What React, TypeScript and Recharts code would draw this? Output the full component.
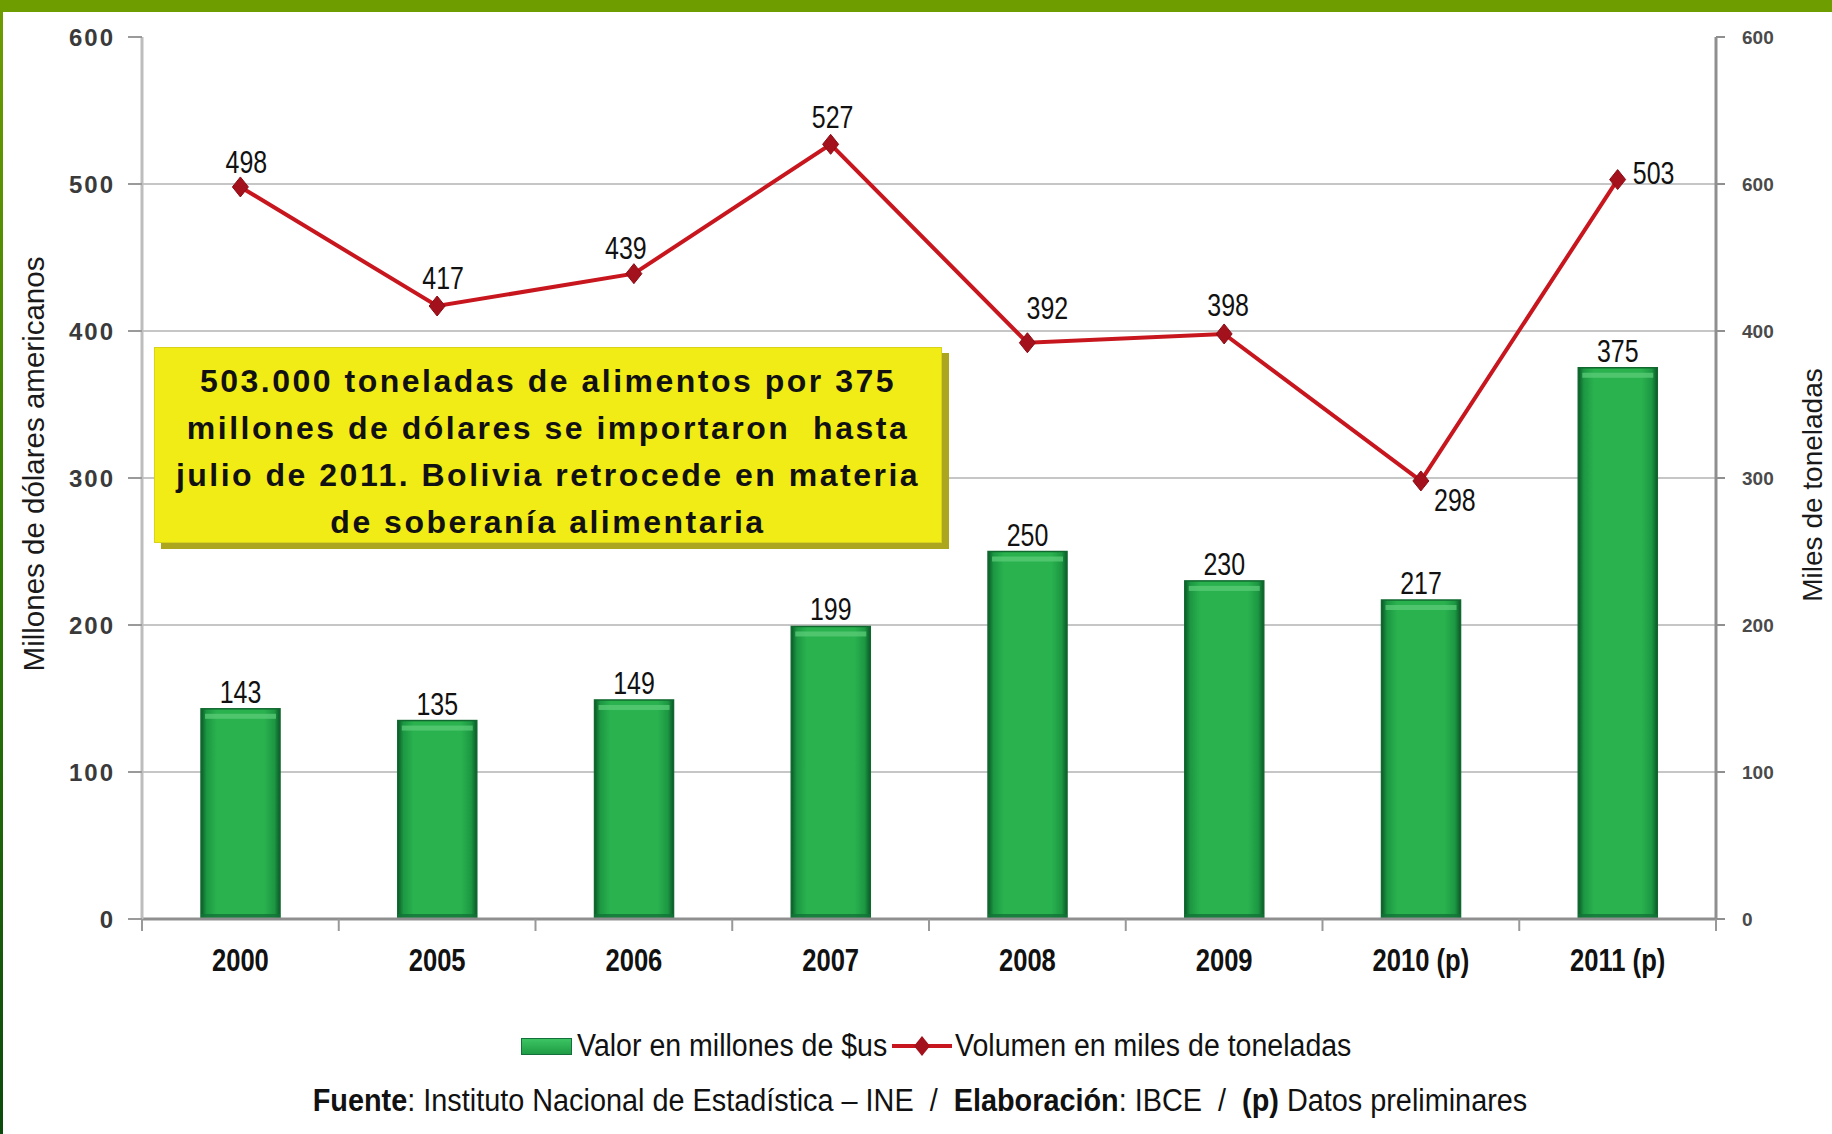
import React from 'react';
import { ComposedChart, Bar, Line, XAxis, YAxis, CartesianGrid, LabelList, Legend } from 'recharts';

const categories = ['2000', '2005', '2006', '2007', '2008', '2009', '2010 (p)', '2011 (p)'];
const valorMillones = [143, 135, 149, 199, 250, 230, 217, 375];
const volumenMiles = [498, 417, 439, 527, 392, 398, 298, 503];
const axisTicks = [0, 100, 200, 300, 400, 500, 600];
const leftTickLabels = ['0', '100', '200', '300', '400', '500', '600'];
const rightTickLabels = ['0', '100', '200', '300', '400', '600', '600'];
const gridValues = [100, 200, 300, 400, 500];
const boxLines = [
  '503.000 toneladas de alimentos por 375',
  'millones de dólares se importaron  hasta',
  'julio de 2011. Bolivia retrocede en materia',
  'de soberanía alimentaria',
];
const legendLabels = ['Valor en millones de $us', 'Volumen en miles de toneladas'];
const leftTitle = 'Millones de dólares americanos';
const rightTitle = 'Miles de toneladas';

const data = categories.map((c, i) => ({ year: c, valor: valorMillones[i], volumen: volumenMiles[i] }));

// label placement offsets (style) for the line values, relative to each point
const lineLabelOffsets: [number, number][] = [
  [6, -25], [6, -28], [-8, -26], [2, -27], [20, -35], [4, -29], [34, 19], [36, -7],
];

const SANS = '"Liberation Sans", Arial, sans-serif';

// horizontally compressed text (imitates the narrow font of the original)
const NarrowText = (p: {
  x: number; y: number; sx: number; size: number; bold?: boolean; anchor?: string; baseline?: string; children: any;
}) => (
  <text
    transform={`translate(${p.x},${p.y}) scale(${p.sx},1)`}
    x={0}
    y={0}
    textAnchor={p.anchor || 'middle'}
    dominantBaseline={p.baseline || 'central'}
    fontFamily={SANS}
    fontSize={p.size}
    fontWeight={p.bold ? 'bold' : 'normal'}
    fill="#111"
  >
    {p.children}
  </text>
);

const BarShape = (props: any) => {
  const { x, y, width, height, index } = props;
  if (!height || height <= 0) return null;
  const id = `barGrad${index}`;
  return (
    <g>
      <defs>
        <linearGradient id={id} x1="0" y1="0" x2="1" y2="0">
          <stop offset="0%" stopColor="#0b5a28" />
          <stop offset="7%" stopColor="#1c9742" />
          <stop offset="20%" stopColor="#2ab24f" />
          <stop offset="80%" stopColor="#2ab24f" />
          <stop offset="93%" stopColor="#1c9742" />
          <stop offset="100%" stopColor="#0b5a28" />
        </linearGradient>
      </defs>
      <rect x={x} y={y} width={width} height={height} fill={`url(#${id})`} stroke="#10682f" strokeWidth={1.5} />
      <rect x={x + 4} y={y + 5} width={width - 8} height={5} fill="#5fcf7c" opacity={0.7} />
      <rect x={x} y={y + height - 5} width={width} height={5} fill="#117337" opacity={0.8} />
    </g>
  );
};

const Diamond = (props: any) => {
  const { cx, cy } = props;
  if (cx == null || cy == null) return null;
  return (
    <polygon
      points={`${cx},${cy - 10} ${cx + 8},${cy} ${cx},${cy + 10} ${cx - 8},${cy}`}
      fill="#a3111c"
      stroke="#8c0c15"
      strokeWidth={1}
    />
  );
};

const LineLabel = (props: any) => {
  const { x, y, value, index } = props;
  const [dx, dy] = lineLabelOffsets[index] || [0, -25];
  return (
    <NarrowText x={x + dx} y={y + dy} sx={0.78} size={32}>
      {value}
    </NarrowText>
  );
};

const BarLabel = (props: any) => {
  const { x, y, width, value } = props;
  return (
    <NarrowText x={x + width / 2} y={y - 6} sx={0.78} size={32} baseline="auto">
      {value}
    </NarrowText>
  );
};

const XTick = (props: any) => {
  const { x, y, payload, index, visibleTicksCount, width } = props;
  const off = payload && payload.offset != null && payload.offset > 0 ? payload.offset : width / visibleTicksCount / 2;
  const last = index === visibleTicksCount - 1;
  return (
    <g>
      <line x1={x - off} x2={x - off} y1={y} y2={y + 12} stroke="#999" strokeWidth={2} />
      {last && <line x1={x + off} x2={x + off} y1={y} y2={y + 12} stroke="#999" strokeWidth={2} />}
      <NarrowText x={x} y={y + 41} sx={0.8} size={32} bold>
        {payload.value}
      </NarrowText>
    </g>
  );
};

const LeftTitle = (props: any) => {
  const vb = props.viewBox || { x: 0, y: 37, width: 142, height: 882 };
  const cx = vb.x + 33;
  const cy = vb.y + vb.height / 2 - 14;
  return (
    <text
      transform={`translate(${cx},${cy}) rotate(-90)`}
      textAnchor="middle"
      dominantBaseline="central"
      fontFamily={SANS}
      fontSize={29.5}
      fill="#1a1a1a"
    >
      {leftTitle}
    </text>
  );
};

const RightTitle = (props: any) => {
  const vb = props.viewBox || { x: 1716, y: 37, width: 116, height: 882 };
  const cx = vb.x + 96;
  const cy = vb.y + vb.height / 2 + 7;
  return (
    <text
      transform={`translate(${cx},${cy}) rotate(-90)`}
      textAnchor="middle"
      dominantBaseline="central"
      fontFamily={SANS}
      fontSize={28}
      fill="#1a1a1a"
    >
      {rightTitle}
    </text>
  );
};

const narrowHtml = (sx: number): React.CSSProperties => ({
  transform: `scaleX(${sx})`,
  transformOrigin: '0 50%',
});

const LegendContent = () => (
  <div style={{ position: 'relative', width: 1832, height: 100, fontFamily: SANS, color: '#111' }}>
    <div
      style={{
        position: 'absolute',
        left: 521,
        top: 9,
        width: 49,
        height: 15,
        background: 'linear-gradient(#3cc462, #1f9c45)',
        border: '1px solid #13703a',
      }}
    />
    <div
      style={{
        position: 'absolute', left: 577, top: -1, fontSize: 31, whiteSpace: 'nowrap', lineHeight: '36px',
        ...narrowHtml(0.92),
      }}
    >
      {legendLabels[0]}
    </div>
    <svg style={{ position: 'absolute', left: 890, top: 4 }} width={64} height={26}>
      <line x1={2} y1={13} x2={62} y2={13} stroke="#c8161e" strokeWidth={4} />
      <polygon points="32,3 40,13 32,23 24,13" fill="#a3111c" />
    </svg>
    <div
      style={{
        position: 'absolute', left: 955, top: -1, fontSize: 31, whiteSpace: 'nowrap', lineHeight: '36px',
        ...narrowHtml(0.92),
      }}
    >
      {legendLabels[1]}
    </div>
    <div
      style={{
        position: 'absolute',
        left: 0,
        width: 1840,
        top: 54,
        textAlign: 'center',
        fontSize: 31,
        lineHeight: '36px',
        whiteSpace: 'nowrap',
        transform: 'scaleX(0.93)',
        transformOrigin: '50% 50%',
      }}
    >
      <b>Fuente</b>: Instituto Nacional de Estadística – INE&nbsp;&nbsp;/&nbsp;&nbsp;<b>Elaboración</b>: IBCE&nbsp;&nbsp;/&nbsp;&nbsp;<b>(p)</b> Datos preliminares
    </div>
  </div>
);

export default function App() {
  return (
    <div
      style={{
        position: 'absolute',
        left: 0,
        top: 0,
        width: 1832,
        height: 1134,
        background: '#ffffff',
        overflow: 'hidden',
      }}
    >
      <ComposedChart
        width={1832}
        height={1134}
        data={data}
        margin={{ top: 37, right: 0, left: 0, bottom: 5 }}
        barCategoryGap="30%"
      >
        <CartesianGrid
          yAxisId="left"
          vertical={false}
          horizontalValues={gridValues}
          stroke="#c6c6c6"
          strokeWidth={2}
        />
        <XAxis
          dataKey="year"
          height={110}
          tickSize={0}
          tickMargin={0}
          tickLine={false}
          axisLine={{ stroke: '#8f8f8f', strokeWidth: 3 }}
          tick={<XTick />}
          interval={0}
        />
        <YAxis
          yAxisId="left"
          orientation="left"
          width={142}
          domain={[0, 600]}
          ticks={axisTicks}
          interval={0}
          tickSize={14}
          tickMargin={13}
          axisLine={{ stroke: '#bdbdbd', strokeWidth: 3 }}
          tickLine={{ stroke: '#9a9a9a', strokeWidth: 2 }}
          tickFormatter={(v: number, i: number) => leftTickLabels[i]}
          tick={{ fontFamily: SANS, fontSize: 24, fontWeight: 'bold', fill: '#3a3a3a', letterSpacing: 2 }}
          label={{ content: <LeftTitle /> }}
        />
        <YAxis
          yAxisId="right"
          orientation="right"
          width={116}
          domain={[0, 600]}
          ticks={axisTicks}
          interval={0}
          tickSize={9}
          tickMargin={17}
          axisLine={{ stroke: '#8f8f8f', strokeWidth: 3 }}
          tickLine={{ stroke: '#8f8f8f', strokeWidth: 2 }}
          tickFormatter={(v: number, i: number) => rightTickLabels[i]}
          tick={{ fontFamily: SANS, fontSize: 19, fontWeight: 'bold', fill: '#4a4a4a' }}
          label={{ content: <RightTitle /> }}
        />
        <Legend verticalAlign="bottom" wrapperStyle={{ left: 0, width: 1832, bottom: 5, height: 100 }} content={<LegendContent />} />
        <Bar
          yAxisId="left"
          dataKey="valor"
          name={legendLabels[0]}
          shape={<BarShape />}
          isAnimationActive={false}
        >
          <LabelList dataKey="valor" content={<BarLabel />} />
        </Bar>
        <Line
          yAxisId="right"
          dataKey="volumen"
          name={legendLabels[1]}
          type="linear"
          stroke="#c8161e"
          strokeWidth={4}
          dot={<Diamond />}
          activeDot={false}
          isAnimationActive={false}
        >
          <LabelList dataKey="volumen" content={<LineLabel />} />
        </Line>
      </ComposedChart>

      {/* top and left frame */}
      <div style={{ position: 'absolute', left: 0, top: 0, width: 1832, height: 12, background: '#6e9d00' }} />
      <div
        style={{
          position: 'absolute',
          left: 0,
          top: 0,
          width: 3,
          height: 1134,
          background: 'linear-gradient(#6e9d00, #2f7a05 50%, #0a4a0c)',
        }}
      />

      {/* annotation box */}
      <div
        style={{
          position: 'absolute',
          left: 154,
          top: 347,
          width: 788,
          height: 196,
          background: '#f2ec16',
          boxShadow: '7px 6px 0 #aca51e',
          border: '1px solid #d8d21a',
          boxSizing: 'border-box',
          fontFamily: SANS,
          fontWeight: 'bold',
          fontSize: 32,
          letterSpacing: 2.5,
          lineHeight: '47px',
          textAlign: 'center',
          color: '#111',
          paddingTop: 10,
          whiteSpace: 'pre',
        }}
      >
        {boxLines.map((l, i) => (
          <div key={i}>{l}</div>
        ))}
      </div>
    </div>
  );
}
